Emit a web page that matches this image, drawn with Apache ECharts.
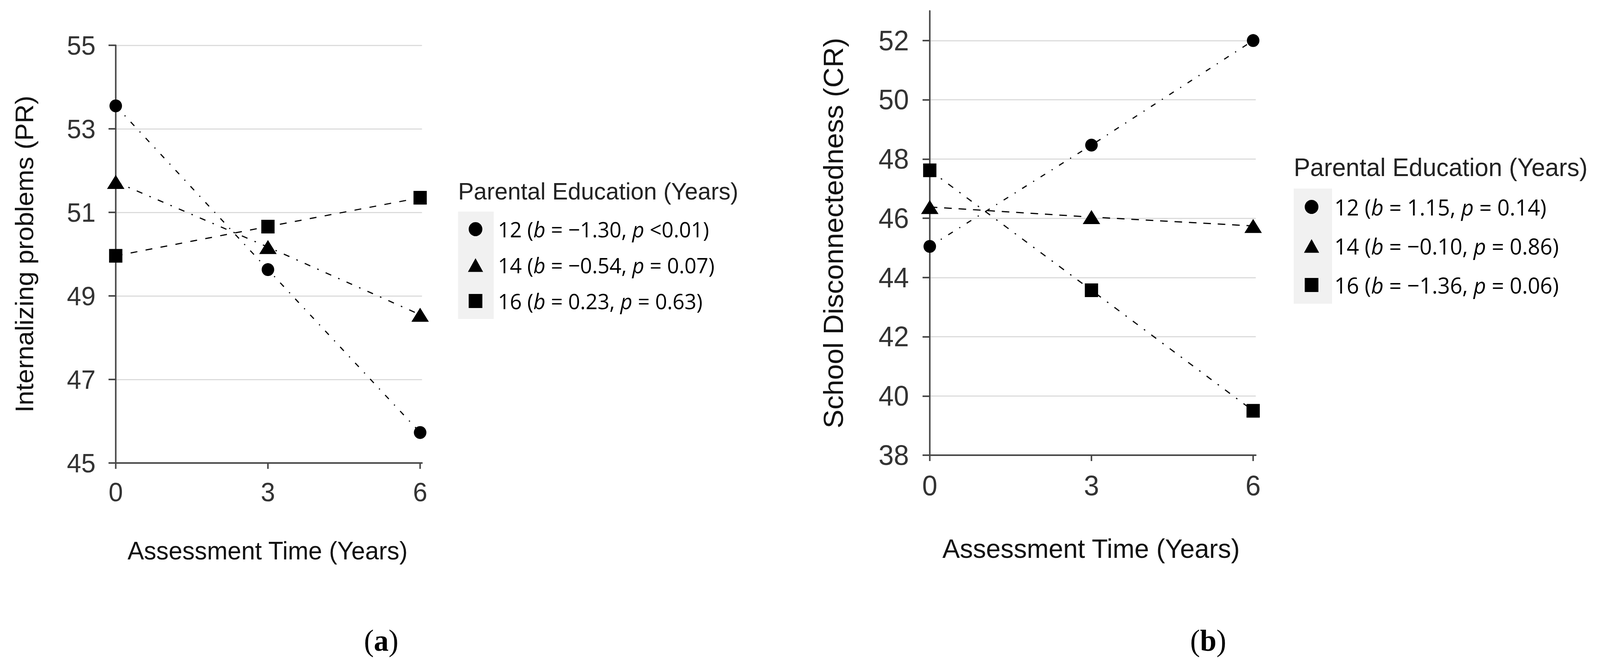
<!DOCTYPE html>
<html>
<head>
<meta charset="utf-8">
<script src="https://cdn.jsdelivr.net/npm/echarts@6/dist/echarts.min.js"></script>
<style>
html,body{margin:0;padding:0;background:#ffffff;overflow:hidden;}
#c{width:4216px;height:1706px;transform-origin:0 0;}
</style>
</head>
<body>
<div id="c"></div>
<script>
// ---------- data ----------
const times = [0, 3, 6];
const xTicks = [0, 3, 6];
const groups = ['12', '14', '16'];
const xTitle = 'Assessment Time (Years)';
const legendTitle = 'Parental Education (Years)';

// Panel (a)
const aYTitle = 'Internalizing problems (PR)';
const aYTicks = [45, 47, 49, 51, 53, 55];
const a12 = [53.55, 49.63, 45.73];
const a14 = [51.73, 50.17, 48.55];
const a16 = [49.96, 50.66, 51.35];
const aB = ['\u22121.30', '\u22120.54', '0.23'];
const aP = ['<0.01', '= 0.07', '= 0.63'];

// Panel (b)
const bYTitle = 'School Disconnectedness (CR)';
const bYTicks = [38, 40, 42, 44, 46, 48, 50, 52];
const b12 = [45.05, 48.47, 52.00];
const b14 = [46.38, 46.04, 45.74];
const b16 = [47.62, 43.57, 39.50];
const bB = ['1.15', '\u22120.10', '\u22121.36'];
const bP = ['= 0.14', '= 0.86', '= 0.06'];

// ---------- fit the 4216x1706 design into the actual viewport ----------
const el = document.getElementById('c');
const vw = window.innerWidth || 4216, vh = window.innerHeight || 1706;
const sx = vw / 4216, sy = vh / 1706;
if (Math.abs(sx - 1) > 0.001 || Math.abs(sy - 1) > 0.001) {
  el.style.transform = 'scale(' + sx + ',' + sy + ')';
}

// ---------- styles ----------
const AX = '#474747';
const GRID = '#dcdcdc';
const SANS = 'Liberation Sans';
const LEG = 'Open Sans';
const TRI = 'path://M21,0 L42,37 L0,37 Z';
const SQ = 'path://M0,0 L10,0 L10,10 L0,10 Z';
const symbols = ['circle', 'triangle', 'rect'];
const symbolSizes = [33, [46, 36], 35];
const legendIcons = ['circle', TRI, SQ];
const dashA = [[14, 20, 3, 20], [16, 20, 4, 20], [18, 22]];
const dashB = [[14, 20, 3, 20], [20, 18], [16, 20, 4, 20]];

function pairs(vals) { return times.map((t, i) => [t, vals[i]]); }

function makeSeries(prefix, valsList, dashes, xi) {
  return valsList.map((vals, k) => ({
    name: prefix + groups[k],
    type: 'line',
    xAxisIndex: xi, yAxisIndex: xi,
    data: pairs(vals),
    symbol: symbols[k],
    symbolSize: symbolSizes[k],
    itemStyle: { color: '#000', borderWidth: 0 },
    lineStyle: { color: '#000', width: 3, type: dashes[k] },
    emphasis: { disabled: true },
    z: 3
  }));
}

const labelMap = {};
groups.forEach((g, k) => {
  labelMap['a' + g] = '{s|}' + g + ' ({i|b} = ' + aB[k] + ', {i|p} ' + aP[k] + ')';
  labelMap['b' + g] = '{s|}' + g + ' ({i|b} = ' + bB[k] + ', {i|p} ' + bP[k] + ')';
});

function xAxisOpt(gi, min, max, fs, gap, margin) {
  return {
    type: 'value', gridIndex: gi, min: min, max: max,
    name: xTitle, nameLocation: 'middle', nameGap: gap,
    nameTextStyle: { fontFamily: SANS, fontSize: fs, color: '#111' },
    axisLine: { show: true, lineStyle: { color: AX, width: 4 } },
    axisTick: { show: true, length: 15, lineStyle: { color: AX, width: 4 }, customValues: xTicks },
    axisLabel: { fontFamily: SANS, fontSize: fs + 3, color: '#333', margin: margin, customValues: xTicks },
    splitLine: { show: false }
  };
}
function yAxisOpt(gi, min, max, ticks, title, fs, lfs, gap) {
  return {
    type: 'value', gridIndex: gi, min: min, max: max,
    name: title, nameLocation: 'middle', nameGap: gap, nameRotate: 90,
    nameTextStyle: { fontFamily: SANS, fontSize: fs, color: '#111' },
    axisLine: { show: true, lineStyle: { color: AX, width: 4 } },
    axisTick: { show: true, length: 19, lineStyle: { color: AX, width: 4 }, customValues: ticks },
    axisLabel: { fontFamily: SANS, fontSize: lfs, color: '#333', margin: 46, customValues: ticks },
    splitLine: { show: true, lineStyle: { color: GRID, width: 3 } }
  };
}
function legendOpt(prefix, left, top, gap, fs, spacer) {
  return {
    orient: 'vertical', left: left, top: top, padding: 0,
    itemWidth: 40, itemHeight: 36, itemGap: gap,
    selectedMode: false,
    data: groups.map((g, k) => ({ name: prefix + g, icon: legendIcons[k], itemStyle: { color: '#000' } })),
    formatter: n => labelMap[n],
    textStyle: {
      fontFamily: LEG, fontSize: fs, color: '#000', lineHeight: 60,
      rich: {
        s: { width: spacer, lineHeight: 60 },
        i: { fontFamily: LEG, fontSize: fs, fontStyle: 'italic', color: '#000', lineHeight: 60 }
      }
    }
  };
}

const chart = echarts.init(el, null, { renderer: 'svg', width: 4216, height: 1706 });
chart.setOption({
  animation: false,
  backgroundColor: '#ffffff',
  grid: [
    { left: 298, top: 116, width: 814, height: 1070, outerBoundsMode: 'none' },
    { left: 2441, top: 28, width: 868, height: 1138, outerBoundsMode: 'none' }
  ],
  xAxis: [
    xAxisOpt(0, -0.052, 6.037, 65, 192, 40),
    xAxisOpt(1, -0.063, 6.049, 69, 204, 42)
  ],
  yAxis: [
    yAxisOpt(0, 45, 55, aYTicks, aYTitle, 67, 68, 200),
    yAxisOpt(1, 38, 53, bYTicks, bYTitle, 72, 72, 209)
  ],
  legend: [
    legendOpt('a', 1233, 557, 32, 55, 34),
    legendOpt('b', 3436, 500, 40, 57, 35)
  ],
  title: [
    { text: legendTitle, left: 1207, top: 459, padding: 0,
      textStyle: { fontFamily: SANS, fontSize: 62, fontWeight: 'normal', color: '#222' } },
    { text: legendTitle, left: 3409, top: 396, padding: 0,
      textStyle: { fontFamily: SANS, fontSize: 65, fontWeight: 'normal', color: '#222' } },
    { text: '({b|a})', left: 959, top: 1602, padding: 0,
      textStyle: { fontFamily: 'Liberation Serif', fontSize: 78, fontWeight: 'normal', color: '#000',
        rich: { b: { fontFamily: 'Liberation Serif', fontSize: 78, fontWeight: 'bold', color: '#000' } } } },
    { text: '({b|b})', left: 3136, top: 1602, padding: 0,
      textStyle: { fontFamily: 'Liberation Serif', fontSize: 78, fontWeight: 'normal', color: '#000',
        rich: { b: { fontFamily: 'Liberation Serif', fontSize: 78, fontWeight: 'bold', color: '#000' } } } }
  ],
  graphic: [
    { type: 'rect', left: 1207, top: 542, shape: { width: 94, height: 275 }, style: { fill: '#f1f1f1' }, z: -1, silent: true },
    { type: 'rect', left: 3409, top: 483, shape: { width: 101, height: 295 }, style: { fill: '#f1f1f1' }, z: -1, silent: true }
  ],
  series: [].concat(
    makeSeries('a', [a12, a14, a16], dashA, 0),
    makeSeries('b', [b12, b14, b16], dashB, 1)
  )
});
</script>
</body>
</html>
